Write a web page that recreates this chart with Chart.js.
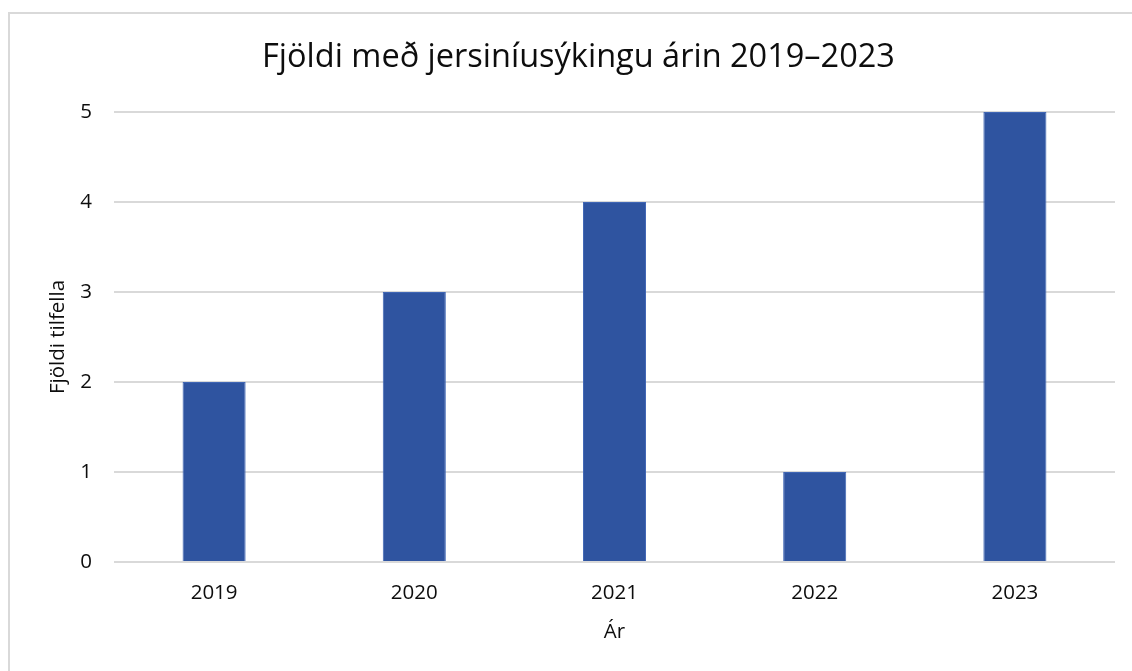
<!DOCTYPE html>
<html>
<head>
<meta charset="utf-8">
<script src="https://cdn.jsdelivr.net/npm/chart.js@4.4.1/dist/chart.umd.min.js"></script>
<style>
  html, body { margin: 0; padding: 0; background: #fff; width: 1132px; height: 671px; overflow: hidden; }
  #frame { position: absolute; left: 8px; top: 12px; width: 1140px; height: 680px; border: 2px solid #d9d9d9; box-sizing: border-box; }
  #wrap { position: absolute; left: 0; top: 0; width: 1132px; height: 671px; }
</style>
</head>
<body>
<div id="frame"></div>
<div id="wrap"><canvas id="c" width="1132" height="671"></canvas></div>
<script>
const categories = ["2019", "2020", "2021", "2022", "2023"];
const cases = [2, 3, 4, 1, 5];
const yTicks = [0, 1, 2, 3, 4, 5];
const chartTitle = "Fjöldi með jersiníusýkingu árin 2019–2023";
const yTitle = "Fjöldi tilfella";
const xTitle = "Ár";

const FONT = "'Open Sans', 'Noto Sans', sans-serif";

new Chart(document.getElementById('c'), {
  type: 'bar',
  data: {
    labels: categories,
    datasets: [{
      data: cases,
      backgroundColor: '#2F54A0',
      borderColor: '#3F66B5',
      borderWidth: 1,
      categoryPercentage: 1,
      barPercentage: 0.315
    }]
  },
  options: {
    responsive: false,
    animation: false,
    layout: { padding: { left: 42, right: 17, top: 10, bottom: 21 } },
    plugins: {
      legend: { display: false },
      tooltip: { enabled: false },
      title: {
        display: true,
        text: chartTitle,
        color: '#0d0d0d',
        font: { family: FONT, size: 32.5, weight: 'normal' },
        padding: { top: 28.5, bottom: 34.5 }
      }
    },
    scales: {
      x: {
        grid: { display: false, drawTicks: false },
        border: { display: false },
        ticks: { color: '#0d0d0d', font: { family: FONT, size: 20.5 }, padding: 19 },
        title: { display: true, text: xTitle, color: '#0d0d0d', font: { family: FONT, size: 20.5 }, padding: { top: 6, bottom: 6 } },
        afterFit: (s) => { s.height = 88; }
      },
      y: {
        min: 0, max: 5,
        grid: { color: '#d9d9d9', lineWidth: 2, drawTicks: false },
        border: { display: false },
        afterBuildTicks: (s) => { s.ticks = yTicks.map(v => ({ value: v })); },
        ticks: { color: '#0d0d0d', font: { family: FONT, size: 20.5 }, padding: 22, stepSize: 1 },
        title: { display: true, text: yTitle, color: '#0d0d0d', font: { family: FONT, size: 20.5 }, padding: { top: 4, bottom: 4 } },
        afterFit: (s) => { s.width = 72; }
      }
    }
  }
});
</script>
</body>
</html>
